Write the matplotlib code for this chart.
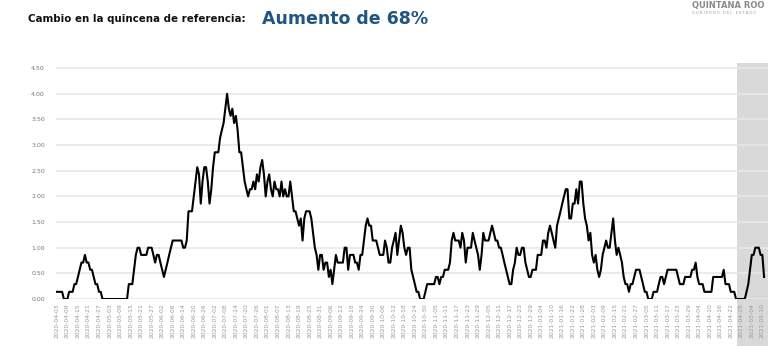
import pandas as pd
import matplotlib.pyplot as plt

# 7-day average values, one per day starting 2020-04-03
start_date = "2020-04-03"
values = [
    0.14, 0.14, 0.14, 0.14, 0, 0, 0, 0.14, 0.14, 0.14,
    0.29, 0.29, 0.43, 0.57, 0.71, 0.71, 0.86, 0.71, 0.71, 0.57,
    0.57, 0.43, 0.29, 0.29, 0.14, 0.14, 0, 0, 0, 0,
    0, 0, 0, 0, 0, 0, 0, 0, 0, 0,
    0, 0.29, 0.29, 0.29, 0.57, 0.86, 1.0, 1.0, 0.86, 0.86,
    0.86, 0.86, 1.0, 1.0, 1.0, 0.86, 0.71, 0.86, 0.86, 0.71,
    0.57, 0.43, 0.57, 0.71, 0.86, 1.0, 1.14, 1.14, 1.14, 1.14,
    1.14, 1.14, 1.0, 1.0, 1.14, 1.71, 1.71, 1.71, 2.0, 2.29,
    2.57, 2.43, 1.86, 2.29, 2.57, 2.57, 2.29, 1.86, 2.14, 2.57,
    2.86, 2.86, 2.86, 3.14, 3.29, 3.43, 3.71, 4.0, 3.71, 3.57,
    3.71, 3.43, 3.57, 3.29, 2.86, 2.86, 2.57, 2.29, 2.14, 2.0,
    2.14, 2.14, 2.29, 2.14, 2.43, 2.29, 2.57, 2.71, 2.43, 2.0,
    2.29, 2.43, 2.14, 2.0, 2.29, 2.14, 2.14, 2.0, 2.29, 2.0,
    2.14, 2.0, 2.0, 2.29, 2.0, 1.71, 1.71, 1.57, 1.43, 1.57,
    1.14, 1.57, 1.71, 1.71, 1.71, 1.57, 1.29, 1.0, 0.86, 0.57,
    0.86, 0.86, 0.57, 0.71, 0.71, 0.43, 0.57, 0.29, 0.57, 0.86,
    0.71, 0.71, 0.71, 0.71, 1.0, 1.0, 0.57, 0.86, 0.86, 0.86,
    0.71, 0.71, 0.57, 0.86, 0.86, 1.14, 1.43, 1.57, 1.43, 1.43,
    1.14, 1.14, 1.14, 1.0, 0.86, 0.86, 0.86, 1.14, 1.0, 0.71,
    0.71, 1.0, 1.14, 1.29, 0.86, 1.14, 1.43, 1.29, 1.0, 0.86,
    1.0, 1.0, 0.57, 0.43, 0.29, 0.14, 0.14, 0, 0, 0,
    0.14, 0.29, 0.29, 0.29, 0.29, 0.29, 0.43, 0.43, 0.29, 0.43,
    0.43, 0.57, 0.57, 0.57, 0.71, 1.14, 1.29, 1.14, 1.14, 1.14,
    1.0, 1.29, 1.14, 0.71, 1.0, 1.0, 1.0, 1.29, 1.14, 1.0,
    0.86, 0.57, 0.86, 1.29, 1.14, 1.14, 1.14, 1.29, 1.43, 1.29,
    1.14, 1.14, 1.0, 1.0, 0.86, 0.71, 0.57, 0.43, 0.29, 0.29,
    0.57, 0.71, 1.0, 0.86, 0.86, 1.0, 1.0, 0.71, 0.57, 0.43,
    0.43, 0.57, 0.57, 0.57, 0.86, 0.86, 0.86, 1.14, 1.14, 1.0,
    1.29, 1.43, 1.29, 1.14, 1.0, 1.43, 1.57, 1.71, 1.86, 2.0,
    2.14, 2.14, 1.57, 1.57, 1.86, 1.86, 2.14, 1.86, 2.29, 2.29,
    1.86, 1.57, 1.43, 1.14, 1.29, 0.86, 0.71, 0.86, 0.57, 0.43,
    0.57, 0.86, 1.0, 1.14, 1.0, 1.0, 1.29, 1.57, 1.14, 0.86,
    1.0, 0.86, 0.71, 0.43, 0.29, 0.29, 0.14, 0.29, 0.29, 0.43,
    0.57, 0.57, 0.57, 0.43, 0.29, 0.14, 0.14, 0, 0, 0,
    0.14, 0.14, 0.14, 0.29, 0.43, 0.43, 0.29, 0.43, 0.57, 0.57,
    0.57, 0.57, 0.57, 0.57, 0.43, 0.29, 0.29, 0.29, 0.43, 0.43,
    0.43, 0.43, 0.57, 0.57, 0.71, 0.43, 0.29, 0.29, 0.29, 0.14,
    0.14, 0.14, 0.14, 0.14, 0.43, 0.43, 0.43, 0.43, 0.43, 0.43,
    0.57, 0.29, 0.29, 0.29, 0.14, 0.14, 0.14, 0, 0, 0,
    0, 0, 0, 0.14, 0.29, 0.57, 0.86, 0.86, 1.0, 1.0,
    1.0, 0.86, 0.86, 0.43,
]
dates = pd.date_range(start_date, periods=len(values), freq="D")
tick_labels = [d.strftime("%Y-%m-%d") for d in dates[::6]]
y_ticks = [0, 0.5, 1.0, 1.5, 2.0, 2.5, 3.0, 3.5, 4.0, 4.5]
window_days = 15  # quincena de referencia

fig = plt.figure(figsize=(7.68, 3.46), dpi=100)
ax = fig.add_axes([0.0729, 0.1358, 0.93, 0.682])

x = list(range(len(values)))
ax.plot(x, values, color="black", linewidth=1.5, zorder=3)

# shaded reference window at the end of the series
ax.axvspan(len(values) - window_days - 1.2, len(values) + 10, ymin=-0.2, ymax=1,
           color="#d9d9d9", zorder=0, clip_on=False, linewidth=0)

ax.set_xlim(-0.5, 406.5)
ax.set_ylim(0, 4.6)
ax.set_yticks(y_ticks)
ax.set_yticklabels([f"{v:.2f}" for v in y_ticks])
ax.set_xticks(x[::6])
ax.set_xticklabels(tick_labels, rotation=90)
ax.tick_params(axis="y", length=0, pad=8, labelsize=4.5, labelcolor="#777777")
ax.tick_params(axis="x", length=0, pad=3, labelsize=4.3, labelcolor="#999999")
ax.grid(axis="y", color="#e8e8e8", linewidth=1.2, zorder=1)
ax.set_axisbelow(True)
for s in ax.spines.values():
    s.set_visible(False)

fig.text(0.036, 0.945, "Cambio en la quincena de referencia:", fontsize=7.4,
         fontweight="bold", color="#111111", family="DejaVu Sans", va="center")
fig.text(0.341, 0.945, "Aumento de 68%", fontsize=12.5, fontweight="bold",
         color="#1f5580", family="DejaVu Sans", va="center")

# state logo text in the corner
fig.text(0.995, 0.998, "QUINTANA ROO", fontsize=6, color="#8a8a8a", ha="right",
         va="top", fontweight="bold")
fig.text(0.985, 0.962, "G O B I E R N O   D E L   E S T A D O", fontsize=2.6,
         color="#9a9a9a", ha="right", va="center")

fig.savefig("out.png", dpi=100)
